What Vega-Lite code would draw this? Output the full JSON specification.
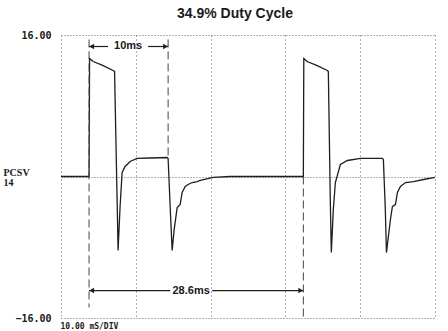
{
  "$schema": "https://vega.github.io/schema/vega-lite/v6.json",
  "autosize": {"type": "none"},
  "width": 374,
  "height": 283,
  "padding": {"left": 61, "top": 35, "right": 13, "bottom": 13},
  "background": "white",
  "title": {"text": "34.9% Duty Cycle", "font": "Liberation Sans", "fontSize": 14, "fontWeight": "bold", "color": "#1a1a1a", "dx": -13, "offset": 9, "baseline": "top"},
  "config": {"view": {"stroke": null}},
  "datasets": {
    "trace": [
      {"t": 0, "v": 0}, {"t": 3.75, "v": 0}, {"t": 3.82, "v": 13.35}, {"t": 4.3, "v": 13.0},
      {"t": 5.5, "v": 12.6}, {"t": 6.96, "v": 11.99}, {"t": 7.16, "v": 11.88}, {"t": 7.5, "v": -2.6},
      {"t": 7.63, "v": -8.37}, {"t": 7.9, "v": -3.39}, {"t": 8.17, "v": 0.45}, {"t": 8.57, "v": 1.13},
      {"t": 9.24, "v": 1.7}, {"t": 10.17, "v": 2.04}, {"t": 11.91, "v": 2.09}, {"t": 14.19, "v": 2.15},
      {"t": 14.32, "v": 2.04}, {"t": 14.6, "v": -3.5}, {"t": 14.86, "v": -8.37}, {"t": 15.13, "v": -6.0},
      {"t": 15.53, "v": -3.51}, {"t": 15.93, "v": -3.17}, {"t": 16.2, "v": -1.81}, {"t": 16.6, "v": -1.13},
      {"t": 17.0, "v": -0.9}, {"t": 17.54, "v": -0.68}, {"t": 18.21, "v": -0.57}, {"t": 18.61, "v": -0.45},
      {"t": 20.35, "v": -0.11}, {"t": 22.62, "v": 0}, {"t": 32.4, "v": 0}, {"t": 32.46, "v": 13.35},
      {"t": 32.9, "v": 13.0}, {"t": 34.1, "v": 12.6}, {"t": 35.61, "v": 11.99}, {"t": 35.74, "v": 11.88},
      {"t": 36.0, "v": -2.6}, {"t": 36.14, "v": -8.6}, {"t": 36.41, "v": -3.7}, {"t": 36.68, "v": -0.68},
      {"t": 37.35, "v": 1.36}, {"t": 38.29, "v": 1.81}, {"t": 40.03, "v": 2.04}, {"t": 42.97, "v": 2.04},
      {"t": 43.1, "v": 1.9}, {"t": 43.35, "v": -3.5}, {"t": 43.51, "v": -8.6}, {"t": 44.04, "v": -4.86},
      {"t": 44.31, "v": -3.39}, {"t": 44.71, "v": -3.17}, {"t": 44.98, "v": -1.81}, {"t": 45.38, "v": -1.13},
      {"t": 46.05, "v": -0.68}, {"t": 47.12, "v": -0.57}, {"t": 48.46, "v": -0.34}, {"t": 50, "v": -0.11}
    ],
    "markers": [
      {"t": 3.75, "a": 15.5, "b": -14.8},
      {"t": 14.32, "a": 15.5, "b": 2.2},
      {"t": 32.4, "a": 0, "b": -16.2}
    ],
    "arrows": [
      {"t": 3.75, "t2": 6.29, "v": 14.7},
      {"t": 11.65, "t2": 14.32, "v": 14.7},
      {"t": 3.75, "t2": 14.59, "v": -12.9},
      {"t": 20.21, "t2": 32.4, "v": -12.9}
    ],
    "heads": [
      {"t": 4.1, "v": 14.7, "dir": "triangle-left"},
      {"t": 13.97, "v": 14.7, "dir": "triangle-right"},
      {"t": 4.1, "v": -12.9, "dir": "triangle-left"},
      {"t": 32.05, "v": -12.9, "dir": "triangle-right"}
    ],
    "labels": [
      {"t": 8.97, "v": 14.7, "txt": "10ms"},
      {"t": 17.4, "v": -12.9, "txt": "28.6ms"}
    ]
  },
  "layer": [
    {
      "data": {"name": "trace"},
      "mark": {"type": "line", "color": "#1e1e1e", "strokeWidth": 1.3, "interpolate": "linear"},
      "encoding": {
        "x": {"field": "t", "type": "quantitative", "scale": {"domain": [0, 50], "nice": false, "zero": false},
          "axis": {"values": [0, 10, 20, 30, 40, 50], "labels": false, "ticks": false, "domain": false,
            "grid": true, "gridDash": [1, 3], "gridColor": "#666", "gridWidth": 1,
            "title": "10.00 mS/DIV", "titleFont": "DejaVu Sans Mono", "titleFontWeight": "bold", "titleFontSize": 8,
            "titleColor": "#1a1a1a", "titleAnchor": "start", "titleAlign": "left", "titleX": -1, "titleY": 8, "titleBaseline": "middle"}},
        "y": {"field": "v", "type": "quantitative", "scale": {"domain": [-16, 16], "nice": false},
          "axis": {"values": [-16, 0, 16], "ticks": false, "domain": false, "grid": true, "gridDash": [1, 2],
            "gridColor": "#666", "gridWidth": 1, "labelExpr": "datum.value == 0 ? '' : format(datum.value, '.2f')",
            "labelFont": "DejaVu Sans Mono", "labelFontWeight": "bold", "labelFontSize": 10, "labelColor": "#1a1a1a",
            "labelPadding": 10,
            "title": ["PCSV", "14"], "titleAngle": 0, "titleAlign": "left", "titleBaseline": "alphabetic",
            "titleFont": "Liberation Serif", "titleFontWeight": "bold", "titleFontSize": 10, "titleColor": "#1a1a1a",
            "titleLineHeight": 10, "titleX": -58, "titleY": 140}}
      }
    },
    {
      "data": {"name": "markers"},
      "mark": {"type": "rule", "color": "#444", "strokeWidth": 1, "strokeDash": [8, 4]},
      "encoding": {
        "x": {"field": "t", "type": "quantitative"},
        "y": {"field": "a", "type": "quantitative"},
        "y2": {"field": "b"}
      }
    },
    {
      "data": {"name": "arrows"},
      "mark": {"type": "rule", "color": "#1e1e1e", "strokeWidth": 1.2},
      "encoding": {
        "x": {"field": "t", "type": "quantitative"},
        "x2": {"field": "t2"},
        "y": {"field": "v", "type": "quantitative"}
      }
    },
    {
      "data": {"name": "heads"},
      "mark": {"type": "point", "filled": true, "color": "#1e1e1e", "size": 30, "opacity": 1},
      "encoding": {
        "x": {"field": "t", "type": "quantitative"},
        "y": {"field": "v", "type": "quantitative"},
        "shape": {"field": "dir", "type": "nominal", "scale": null}
      }
    },
    {
      "data": {"name": "labels"},
      "mark": {"type": "text", "font": "Liberation Sans", "fontWeight": "bold", "fontSize": 11, "color": "#1a1a1a", "baseline": "middle"},
      "encoding": {
        "x": {"field": "t", "type": "quantitative"},
        "y": {"field": "v", "type": "quantitative"},
        "text": {"field": "txt"}
      }
    }
  ]
}
